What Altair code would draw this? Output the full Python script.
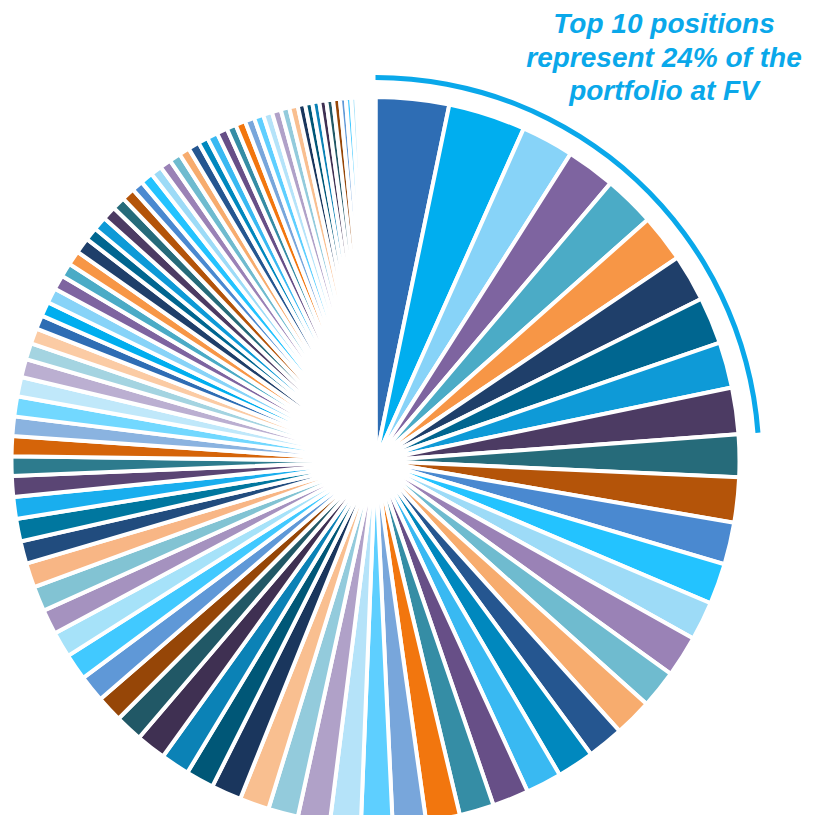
import math
import altair as alt
import pandas as pd

# Portfolio position weights (% of FV), largest first, clockwise from 12 o'clock
weights = [3.25, 3.42, 2.33, 2.17, 2.28, 2.11, 2.08, 2.08, 2.03, 2.06,
           1.89, 2.00, 1.86, 1.81, 1.72, 1.83, 1.69, 1.67, 1.61, 1.64,
           1.58, 1.61, 1.53, 1.50, 1.47, 1.39, 1.36, 1.42, 1.33, 1.31,
           1.33, 1.25, 1.28, 1.33, 1.22, 1.17, 1.19, 1.17, 1.14, 1.11,
           1.11, 1.08, 1.00, 1.00, 0.97, 0.92, 0.86, 0.89, 0.86, 0.89,
           0.86, 0.81, 0.72, 0.69, 0.61, 0.64, 0.67, 0.64, 0.61, 0.64,
           0.69, 0.58, 0.61, 0.61, 0.58, 0.58, 0.50, 0.56, 0.50, 0.50,
           0.50, 0.47, 0.50, 0.44, 0.47, 0.47, 0.42, 0.44, 0.42, 0.42,
           0.40, 0.40, 0.38, 0.38, 0.33, 0.32, 0.31, 0.31, 0.30, 0.30,
           0.26, 0.24, 0.22,
           0.13, 0.12, 0.11, 0.11, 0.10, 0.10, 0.09, 0.08]

positions = [f"Position {i + 1}" for i in range(len(weights))]

palette = ["#2E6DB4", "#00AEEF", "#87D3F8", "#7E64A0", "#4BABC6", "#F79646",
           "#1F3F6A", "#006690", "#0E9AD7", "#4C3B63", "#266B7A", "#B45409",
           "#4A89D0", "#23C3FF", "#9DDBF7", "#9A82B6", "#6FBBCF", "#F7AC6E",
           "#255690", "#0088BE", "#39B9F2", "#674F87", "#358DA5", "#F2760E",
           "#78A6DB", "#5ECFFF", "#B5E3F9", "#B0A1C8", "#93CBDC", "#F9BF90",
           "#1A365D", "#005777", "#0B82B6", "#3F3052", "#215866", "#964607",
           "#5F98D7", "#41C9FF", "#A6E2F9", "#A592BF", "#82C3D3", "#F8B685",
           "#214C7E", "#00779F", "#19AEEE", "#5A4574", "#2D7B8D", "#D56409",
           "#8AB3E0", "#72D8FF", "#C0E8FA", "#BBAFD1", "#A4D4E1", "#FBCBA4"]

title_lines = ["Top 10 positions", "represent 24% of the", "portfolio at FV"]
TOP_N = 10

colors = [palette[i % len(palette)] for i in range(len(weights))]

df = pd.DataFrame({"position": positions, "weight": weights,
                   "order": list(range(len(weights)))})

CX, CY = 367.5, 453
ACCENT = "#0AA8EA"

pie = alt.Chart(df).mark_arc(outerRadius=364, innerRadius=0,
                             stroke="white", strokeWidth=4).encode(
    theta=alt.Theta("weight:Q", stack=True),
    order=alt.Order("order:Q"),
    color=alt.Color("position:N", scale=alt.Scale(domain=positions, range=colors),
                    legend=None),
    x=alt.value(CX), y=alt.value(CY),
)

top_share = sum(weights[:TOP_N]) / sum(weights)
bracket = alt.Chart(pd.DataFrame({"k": [0]})).mark_arc(
    theta=0, theta2=2 * math.pi * top_share,
    outerRadius=386, innerRadius=381, color=ACCENT,
).encode(x=alt.value(CX), y=alt.value(CY))

label = alt.Chart(pd.DataFrame({"k": [0]})).mark_text(
    font="Liberation Sans", fontSize=28, fontStyle="italic", fontWeight="bold",
    color=ACCENT, align="center", baseline="alphabetic", lineHeight=33.5,
    lineBreak="\n",
).encode(x=alt.value(656), y=alt.value(25), text=alt.value("\n".join(title_lines)))

chart = alt.layer(pie, bracket, label).properties(
    width=798, height=807, padding=0,
    autosize=alt.AutoSizeParams(type="none"),
).configure_view(strokeWidth=0)

chart.save("out.html", embed_options={"renderer": "svg", "actions": False})
